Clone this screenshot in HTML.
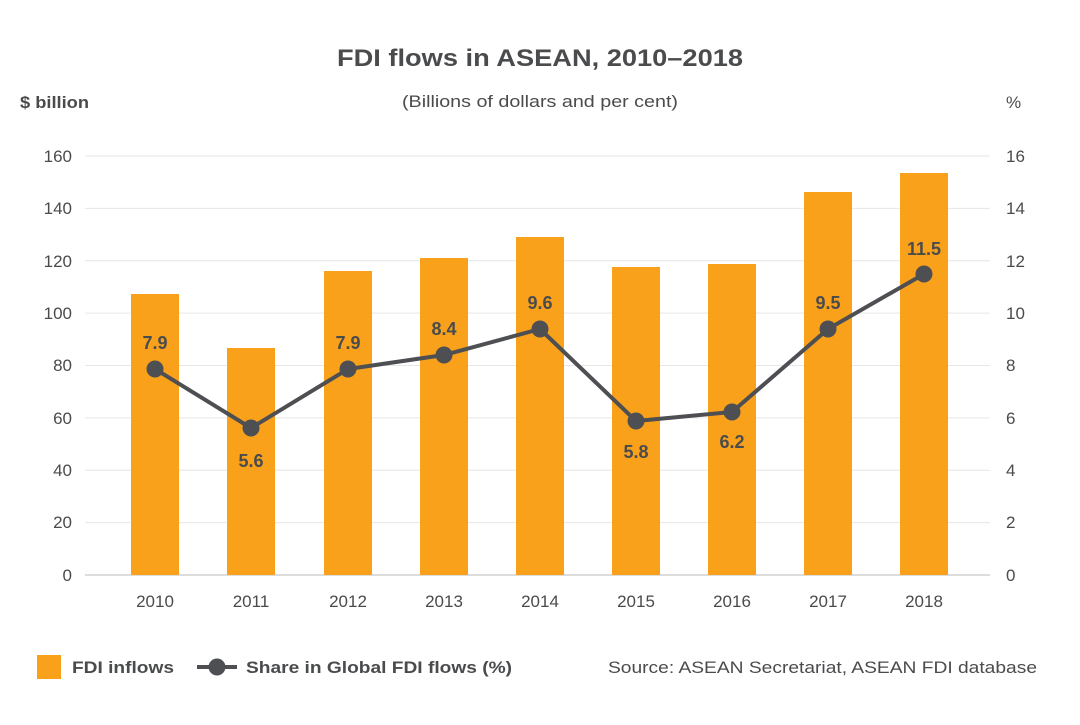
<!DOCTYPE html>
<html><head><meta charset="utf-8"><style>
body{margin:0;background:#fff;}
svg text{font-family:"Liberation Sans",sans-serif;fill:#4a4b4d;}
</style></head><body>
<svg width="1080" height="720" xmlns="http://www.w3.org/2000/svg">
<text x="337" y="66" font-size="24" font-weight="bold" textLength="406" lengthAdjust="spacingAndGlyphs">FDI flows in ASEAN, 2010–2018</text>
<text x="20" y="108" font-size="17" font-weight="bold" textLength="69" lengthAdjust="spacingAndGlyphs">$ billion</text>
<text x="402" y="107" font-size="17" textLength="276" lengthAdjust="spacingAndGlyphs">(Billions of dollars and per cent)</text>
<text x="1006" y="108" font-size="17">%</text>
<g stroke="#e6e6e6" stroke-width="1">
<line x1="85" x2="990" y1="156" y2="156"/><line x1="85" x2="990" y1="208.4" y2="208.4"/>
<line x1="85" x2="990" y1="260.8" y2="260.8"/><line x1="85" x2="990" y1="313.1" y2="313.1"/>
<line x1="85" x2="990" y1="365.5" y2="365.5"/><line x1="85" x2="990" y1="417.9" y2="417.9"/>
<line x1="85" x2="990" y1="470.3" y2="470.3"/><line x1="85" x2="990" y1="522.6" y2="522.6"/>
</g>
<line x1="85" x2="990" y1="575" y2="575" stroke="#bbb"/>
<g font-size="17" text-anchor="end">
<text x="72" y="162">160</text><text x="72" y="214">140</text><text x="72" y="267">120</text>
<text x="72" y="319">100</text><text x="72" y="371">80</text><text x="72" y="424">60</text>
<text x="72" y="476">40</text><text x="72" y="528">20</text><text x="72" y="581">0</text>
</g>
<g font-size="17">
<text x="1006" y="162">16</text><text x="1006" y="214">14</text><text x="1006" y="267">12</text>
<text x="1006" y="319">10</text><text x="1006" y="371">8</text><text x="1006" y="424">6</text>
<text x="1006" y="476">4</text><text x="1006" y="528">2</text><text x="1006" y="581">0</text>
</g>
<g fill="#F9A11B">
<rect x="131" y="294" width="48" height="281"/><rect x="227" y="348" width="48" height="227"/>
<rect x="324" y="271" width="48" height="304"/><rect x="420" y="258" width="48" height="317"/>
<rect x="516" y="237" width="48" height="338"/><rect x="612" y="267" width="48" height="308"/>
<rect x="708" y="264" width="48" height="311"/><rect x="804" y="192" width="48" height="383"/>
<rect x="900" y="173" width="48" height="402"/>
</g>
<g font-size="17" text-anchor="middle">
<text x="155" y="607">2010</text><text x="251" y="607">2011</text><text x="348" y="607">2012</text>
<text x="444" y="607">2013</text><text x="540" y="607">2014</text><text x="636" y="607">2015</text>
<text x="732" y="607">2016</text><text x="828" y="607">2017</text><text x="924" y="607">2018</text>
</g>
<polyline fill="none" stroke="#4d4f53" stroke-width="4" points="155,369 251,428 348,369 444,355 540,329 636,421 732,412 828,329 924,274"/>
<g fill="#4d4f53">
<circle cx="155" cy="369" r="8.5"/><circle cx="251" cy="428" r="8.5"/><circle cx="348" cy="369" r="8.5"/>
<circle cx="444" cy="355" r="8.5"/><circle cx="540" cy="329" r="8.5"/><circle cx="636" cy="421" r="8.5"/>
<circle cx="732" cy="412" r="8.5"/><circle cx="828" cy="329" r="8.5"/><circle cx="924" cy="274" r="8.5"/>
</g>
<g font-size="18" font-weight="bold" text-anchor="middle">
<text x="155" y="349">7.9</text><text x="251" y="467">5.6</text><text x="348" y="349">7.9</text>
<text x="444" y="335">8.4</text><text x="540" y="309">9.6</text><text x="636" y="458">5.8</text>
<text x="732" y="448">6.2</text><text x="828" y="309">9.5</text><text x="924" y="255">11.5</text>
</g>
<rect x="37" y="655" width="24" height="24" fill="#F9A11B"/>
<text x="72" y="673" font-size="17" font-weight="bold" textLength="102" lengthAdjust="spacingAndGlyphs">FDI inflows</text>
<line x1="197" x2="237" y1="667" y2="667" stroke="#4d4f53" stroke-width="4"/>
<circle cx="217" cy="667" r="8.5" fill="#4d4f53"/>
<text x="246" y="673" font-size="17" font-weight="bold" textLength="266" lengthAdjust="spacingAndGlyphs">Share in Global FDI flows (%)</text>
<text x="608" y="673" font-size="17" textLength="429" lengthAdjust="spacingAndGlyphs">Source: ASEAN Secretariat, ASEAN FDI database</text>
</svg>
</body></html>
